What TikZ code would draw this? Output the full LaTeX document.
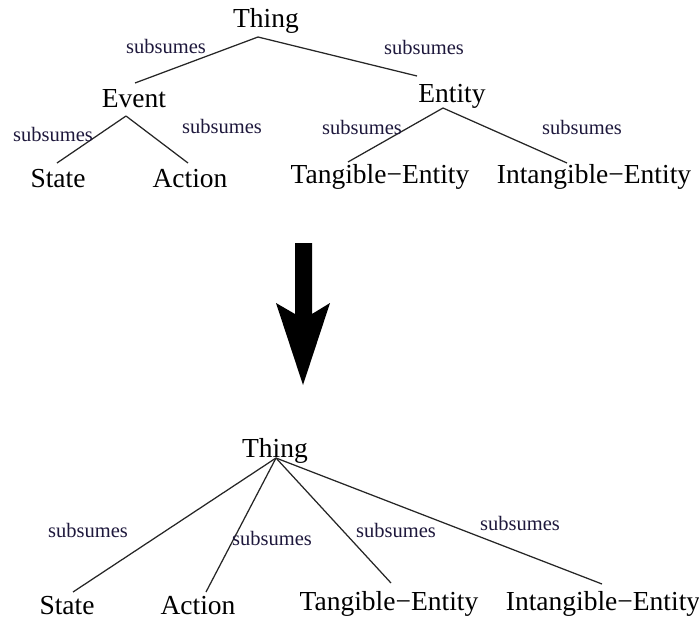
\documentclass[tikz,border=0pt]{standalone}
\usepackage{fontspec}
\setmainfont{Liberation Serif}
\definecolor{labelcol}{RGB}{30,24,60}
\begin{document}
\begin{tikzpicture}[
        x=1pt, y=-1pt,
        concept/.style={inner sep=0pt, anchor=base, font=\fontsize{27.5}{30}\selectfont},
        edge_label/.style={inner sep=0pt, text=labelcol, font=\fontsize{20.5}{24}\selectfont},
        link/.style={draw=black!85, line width=1.25pt}
    ]
        \useasboundingbox (0,0) rectangle (699,619);

        % Upper tree: Thing -> Event, Entity
        \node[concept] (top_thing) at (266,27) {Thing};
        \node[concept] (top_event) at (134,107) {Event};
        \node[concept] (top_entity) at (452,102) {Entity};
        \node[concept] (top_state) at (58,187) {State};
        \node[concept] (top_action) at (190,187) {Action};
        \node[concept] (top_tangible) at (380,183) {Tangible−Entity};
        \node[concept] (top_intangible) at (594,183) {Intangible−Entity};
        \draw[link] ([xshift=-8pt,yshift=-10pt]top_thing.base) -- ([xshift=1pt,yshift=24pt]top_event.base);
        \draw[link] ([xshift=-8pt,yshift=-10pt]top_thing.base) -- ([xshift=-35pt,yshift=26pt]top_entity.base);
        \draw[link] ([xshift=-8pt,yshift=-9pt]top_event.base) -- ([xshift=-1pt,yshift=24pt]top_state.base);
        \draw[link] ([xshift=-8pt,yshift=-9pt]top_event.base) -- ([xshift=-2pt,yshift=24pt]top_action.base);
        \draw[link] ([xshift=-9pt,yshift=-6pt]top_entity.base) -- ([xshift=-32pt,yshift=21pt]top_tangible.base);
        \draw[link] ([xshift=-9pt,yshift=-6pt]top_entity.base) -- ([xshift=-27pt,yshift=20pt]top_intangible.base);

        \node[edge_label] (top_lbl1) at (166,46) {subsumes};
        \node[edge_label] (top_lbl2) at (424,47) {subsumes};
        \node[edge_label] (top_lbl3) at (53,134) {subsumes};
        \node[edge_label] (top_lbl4) at (222,126) {subsumes};
        \node[edge_label] (top_lbl5) at (362,127) {subsumes};
        \node[edge_label] (top_lbl6) at (582,127) {subsumes};

        % Big arrow
        \fill (295,243) -- (312,243) -- (312,314) -- (330,303) -- (303,385) -- (276,303) -- (295,314) -- cycle;

        % Lower tree: flattened
        \node[concept] (bot_thing) at (275,457) {Thing};
        \node[concept] (bot_state) at (67,614) {State};
        \node[concept] (bot_action) at (198,614) {Action};
        \node[concept] (bot_tangible) at (389,610) {Tangible−Entity};
        \node[concept] (bot_intangible) at (603,610) {Intangible−Entity};
        \draw[link] ([xshift=1pt,yshift=-1pt]bot_thing.base) -- ([xshift=6pt,yshift=22pt]bot_state.base);
        \draw[link] ([xshift=1pt,yshift=-1pt]bot_thing.base) -- ([xshift=8pt,yshift=22pt]bot_action.base);
        \draw[link] ([xshift=1pt,yshift=-1pt]bot_thing.base) -- ([xshift=2pt,yshift=27pt]bot_tangible.base);
        \draw[link] ([xshift=1pt,yshift=-1pt]bot_thing.base) -- ([xshift=-1pt,yshift=26pt]bot_intangible.base);

        \node[edge_label] (bot_lbl1) at (88,530) {subsumes};
        \node[edge_label] (bot_lbl2) at (272,538) {subsumes};
        \node[edge_label] (bot_lbl3) at (396,530) {subsumes};
        \node[edge_label] (bot_lbl4) at (520,523) {subsumes};

    \end{tikzpicture}
\end{document}
